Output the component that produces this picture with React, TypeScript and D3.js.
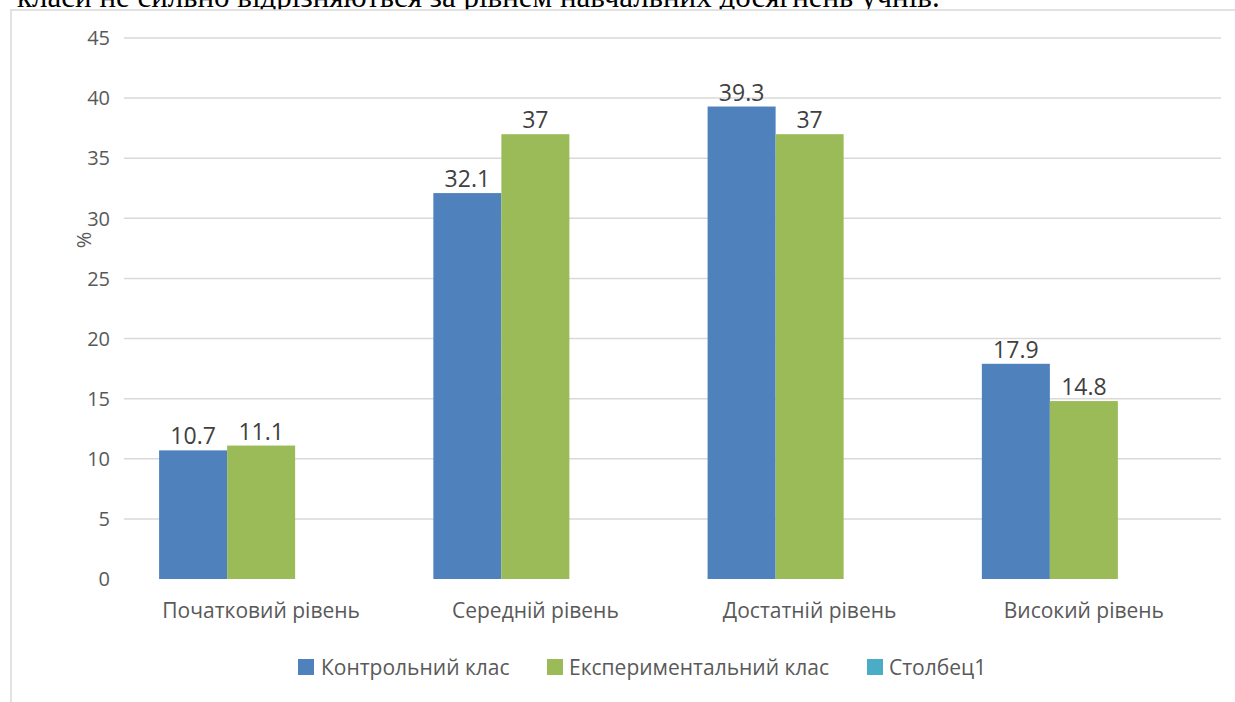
import React from "react";
import * as d3 from "d3";

const categories = ["Початковий рівень", "Середній рівень", "Достатній рівень", "Високий рівень"];
const seriesNames = ["Контрольний клас", "Експериментальний клас", "Столбец1"];
const controlValues = [10.7, 32.1, 39.3, 17.9];
const experimentalValues = [11.1, 37, 37, 14.8];
const column1Values: (number | null)[] = [null, null, null, null];
const yTicks = [0, 5, 10, 15, 20, 25, 30, 35, 40, 45];
const colors = ["#4f81bd", "#9bbb59", "#4bacc6"];
const topText = "класи не сильно відрізняються за рівнем навчальних досягнень учнів.";

const W = 1235;
const H = 702;
const FONT = "'Open Sans', sans-serif";

export default function App() {
  const series = [controlValues, experimentalValues, column1Values];
  const x0 = d3.scaleBand<string>().domain(categories).range([124, 1221]).padding(0);
  const x1 = d3
    .scaleBand<number>()
    .domain([0, 1, 2])
    .range([0, x0.bandwidth()])
    .paddingInner(0)
    .paddingOuter(0.516);
  const y = d3.scaleLinear().domain([0, 45]).range([579, 38]);

  const legendItems = [
    { sq: 298, tx: 321 },
    { sq: 547, tx: 569 },
    { sq: 867, tx: 889 },
  ];

  return (
    <div style={{ position: "absolute", left: 0, top: 0 }}>
      <svg width={W} height={H} style={{ display: "block" }}>
        <rect x={0} y={0} width={W} height={H} fill="#ffffff" />
        <text x={17} y={7} fontFamily="'Liberation Serif', 'Times New Roman', serif" fontSize={31} fill="#000">
          {topText}
        </text>
        <rect x={11} y={10} width={W} height={H} fill="#ffffff" stroke="#d9d9d9" strokeWidth={1.5} />
        {yTicks
          .filter((t) => t !== 0)
          .map((t) => (
            <line key={"g" + t} x1={124} x2={1221} y1={y(t)} y2={y(t)} stroke="#d9d9d9" strokeWidth={1.5} />
          ))}
        {yTicks.map((t) => (
          <text
            key={"t" + t}
            x={110}
            y={y(t)}
            dy="0.36em"
            textAnchor="end"
            fontFamily={FONT}
            fontSize={20}
            fill="#595959"
          >
            {t}
          </text>
        ))}
        <text
          transform={`translate(84,240) rotate(-90)`}
          textAnchor="middle"
          dy="0.36em"
          fontFamily={FONT}
          fontSize={20}
          fill="#595959"
        >
          %
        </text>
        {categories.map((c, ci) =>
          series.map((vals, si) => {
            const v = vals[ci];
            if (v == null) return null;
            const bx = (x0(c) as number) + (x1(si) as number);
            const bw = x1.bandwidth();
            return (
              <g key={c + si}>
                <rect x={bx} y={y(v)} width={bw} height={y(0) - y(v)} fill={colors[si]} />
                <text
                  x={bx + bw / 2}
                  y={y(v) - 6}
                  textAnchor="middle"
                  fontFamily={FONT}
                  fontSize={23}
                  fill="#404040"
                >
                  {v}
                </text>
              </g>
            );
          })
        )}
        {categories.map((c) => (
          <text
            key={"c" + c}
            x={(x0(c) as number) + x0.bandwidth() / 2}
            y={618}
            textAnchor="middle"
            fontFamily={FONT}
            fontSize={21}
            fill="#595959"
          >
            {c}
          </text>
        ))}
        {seriesNames.map((s, i) => (
          <g key={"l" + s}>
            <rect x={legendItems[i].sq} y={659} width={16} height={16} fill={colors[i]} />
            <text x={legendItems[i].tx} y={675} fontFamily={FONT} fontSize={21} fill="#595959">
              {s}
            </text>
          </g>
        ))}
      </svg>
    </div>
  );
}
